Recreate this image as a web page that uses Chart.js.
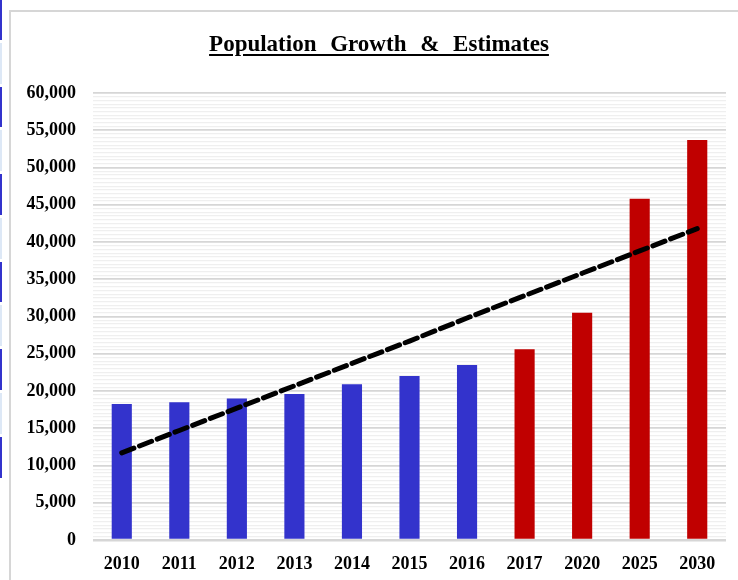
<!DOCTYPE html>
<html>
<head>
<meta charset="utf-8">
<script src="https://cdn.jsdelivr.net/npm/chart.js@4/dist/chart.umd.min.js"></script>
<style>
  html, body { margin: 0; padding: 0; background: #fff; width: 738px; height: 580px; overflow: hidden; }
  #frame { position: absolute; left: 9px; top: 10px; width: 760px; height: 600px;
           border-left: 2px solid #d6d6d6; border-top: 2px solid #d6d6d6; }
  .strip { position: absolute; left: 0; width: 2px; }
  #title { position: absolute; left: 0; width: 758px; top: 31px; text-align: center;
           font: bold 23px "Liberation Serif", "Times New Roman", serif; word-spacing: 8px;
           text-decoration: underline; text-decoration-thickness: 2px; text-underline-offset: 3px; color: #000; }
  #wrap { position: absolute; left: 0; top: 0; width: 738px; height: 580px; }
</style>
</head>
<body>
<div id="strips"></div>
<div id="frame"></div>
<div id="wrap"><canvas id="chart"></canvas></div>
<div id="title">Population Growth &amp; Estimates</div>
<script>
  // chart data
  const years      = ['2010', '2011', '2012', '2013', '2014', '2015', '2016', '2017', '2020', '2025', '2030'];
  const population = [18250, 18500, 19000, 19600, 20900, 22000, 23500, 25600, 30500, 45800, 53700];
  const trend      = [11700, 14700, 17700, 20700, 23700, 26700, 29800, 32800, 35800, 38800, 41800];
  const isEstimate = [false, false, false, false, false, false, false, true, true, true, true];

  const BLUE = '#3333cc';
  const RED  = '#c00000';
  const FONT = { family: '"Liberation Serif", "Times New Roman", serif', size: 18, weight: 'bold' };

  // left edge decoration (blue strips from the page behind the chart)
  const strips = document.getElementById('strips');
  [[0, 40, BLUE], [43, 84, '#dde8f6'], [87, 127, BLUE], [130, 171, '#dde8f6'], [174, 215, BLUE],
   [218, 259, '#dde8f6'], [262, 302, BLUE], [305, 346, '#dde8f6'], [349, 390, BLUE],
   [393, 434, '#dde8f6'], [437, 478, BLUE]].forEach(([a, b, c]) => {
    const d = document.createElement('div');
    d.className = 'strip';
    d.style.top = a + 'px';
    d.style.height = (b - a) + 'px';
    d.style.background = c;
    strips.appendChild(d);
  });

  new Chart(document.getElementById('chart').getContext('2d'), {
    data: {
      labels: years,
      datasets: [
        {
          type: 'line',
          data: trend,
          borderColor: '#000',
          borderWidth: 5,
          borderDash: [13, 6],
          borderCapStyle: 'round',
          pointRadius: 0,
          tension: 0,
          order: 0,
        },
        {
          type: 'bar',
          data: population,
          backgroundColor: isEstimate.map(e => e ? RED : BLUE),
          barPercentage: 0.35,
          categoryPercentage: 1,
          order: 1,
        },
      ],
    },
    options: {
      responsive: true,
      maintainAspectRatio: false,
      animation: false,
      layout: { padding: { top: 93, right: 12, left: 0, bottom: 0 } },
      plugins: { legend: { display: false }, tooltip: { enabled: false } },
      scales: {
        x: {
          grid: { display: false },
          border: { display: false },
          ticks: { color: '#000', font: FONT, padding: 6, maxRotation: 0 },
          afterFit(s) { s.height = 40; },
        },
        y: {
          min: 0,
          max: 60000,
          border: { display: false },
          grid: {
            drawTicks: false,
            color: c => c.tick.value % 5000 === 0 ? '#d6d6d6' : '#efefef',
            lineWidth: c => c.tick.value === 0 ? 2.5 : (c.tick.value % 5000 === 0 ? 1.8 : 1.2),
          },
          ticks: {
            stepSize: 500,
            autoSkip: false,
            maxTicksLimit: 200,
            color: '#000',
            font: FONT,
            padding: 17,
            callback: v => v % 5000 === 0 ? v.toLocaleString('en-US') : '',
          },
          afterFit(s) { s.width = 93; },
        },
      },
    },
  });
</script>
</body>
</html>
